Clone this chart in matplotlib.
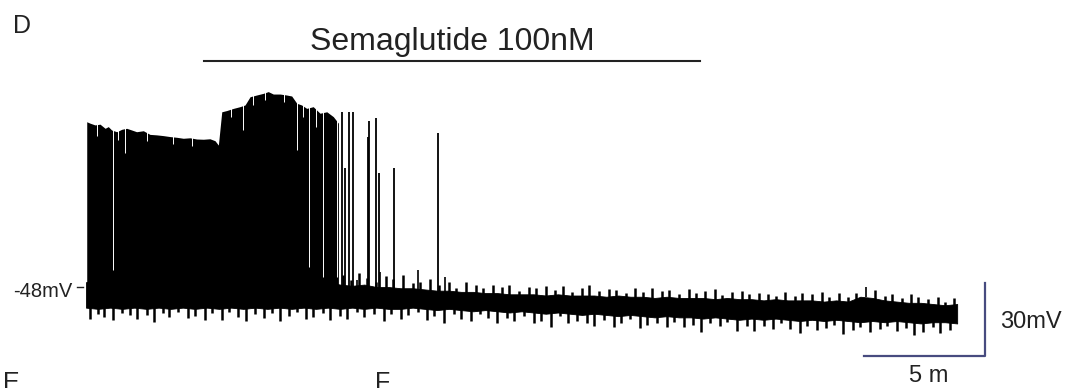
import numpy as np
import matplotlib.pyplot as plt

plt.rcParams['font.family'] = ['Liberation Sans', 'DejaVu Sans']

# baseline noise band (solid core), sampled every 0.5 min (mV)
band_lower = [-56.5, -57.0, -56.5, -57.0, -56.5, -57.0, -56.5, -57.0, -56.5, -57.0, -56.5,
              -57.0, -56.5, -57.0, -56.5, -57.0, -56.5, -57.0, -56.5, -57.0, -56.5,
              -57.0, -56.5, -57.0, -56.5, -57.0, -57.0, -56.5, -57.0, -57.5, -57.0,
              -57.5, -58.0, -57.5, -58.0, -58.5, -58.0, -58.5, -59.0, -58.5, -59.0,
              -59.5, -59.0, -59.5, -60.0, -59.5, -60.0, -60.5, -60.0, -60.5, -60.5,
              -61.0, -60.5, -61.0, -61.5, -61.0, -61.5, -61.0, -61.5, -62.0, -61.5,
              -62.0, -61.5, -62.0, -62.5, -62.0, -62.5, -62.0, -62.5, -63.0, -62.5, -62.5, -63.0]
band_upper = [-46.0, -45.5, -46.5, -45.5, -46.0, -45.5, -46.0, -45.5, -46.0, -45.5, -46.0,
              -45.5, -46.0, -45.5, -46.0, -45.5, -46.0, -45.5, -46.0, -45.5, -46.0,
              -47.0, -47.5, -47.0, -48.0, -48.0, -48.5, -48.5, -49.0, -49.5, -49.5,
              -50.0, -50.0, -50.5, -50.5, -51.0, -51.0, -51.0, -51.5, -51.0, -51.5,
              -51.5, -51.5, -52.0, -51.5, -52.0, -52.0, -52.5, -52.0, -52.5, -52.5,
              -52.5, -53.0, -52.5, -53.0, -53.0, -53.5, -53.0, -53.5, -53.5, -53.5,
              -54.0, -53.5, -54.0, -52.0, -52.5, -53.5, -54.0, -54.5, -54.5, -55.0, -55.5, -55.0]
band_t = np.linspace(0, 36, len(band_lower))

# noise excursions below the band: time (min) and depth (mV)
tail_down_t = [0.15, 0.5, 0.75, 1.1, 1.5, 1.8, 2.1, 2.5, 2.8, 3.2,
               3.45, 3.8, 4.2, 4.5, 4.9, 5.2, 5.6, 5.9, 6.3, 6.6,
               7.0, 7.35, 7.7, 8.0, 8.4, 8.7, 9.1, 9.4, 9.8, 10.1,
               10.5, 10.8, 11.2, 11.5, 11.9, 12.3, 12.6, 13.0, 13.3, 13.7,
               14.1, 14.4, 14.8, 15.2, 15.5, 15.9, 16.3, 16.6, 17.0, 17.4,
               17.7, 18.1, 18.5, 18.8, 19.2, 19.6, 19.9, 20.3, 20.7, 21.0,
               21.4, 21.8, 22.1, 22.5, 22.9, 23.2, 23.6, 24.0, 24.3, 24.7,
               25.1, 25.4, 25.8, 26.2, 26.5, 26.9, 27.3, 27.6, 28.0, 28.4,
               28.7, 29.1, 29.5, 29.8, 30.2, 30.6, 30.9, 31.3, 31.7, 32.0,
               32.4, 32.8, 33.1, 33.5, 33.9, 34.2, 34.6, 35.0, 35.3, 35.7]
tail_down_len = [4.5, 2.0, 3.5, 5.0, 1.5, 3.0, 4.5, 2.5, 5.5, 2.0,
                 3.5, 1.5, 4.0, 3.0, 5.0, 2.0, 4.5, 1.5, 3.5, 5.0,
                 2.5, 4.0, 2.0, 5.5, 3.0, 1.5, 4.5, 3.5, 2.0, 5.0,
                 3.0, 4.5, 1.5, 3.5, 2.5, 5.0, 2.0, 4.0, 3.0, 1.5,
                 4.5, 2.5, 5.5, 2.0, 3.5, 4.0, 1.5, 3.0, 5.0, 2.5,
                 3.5, 2.0, 4.5, 3.0, 5.5, 1.5, 4.0, 2.5, 3.5, 5.0,
                 2.0, 4.5, 3.0, 1.5, 5.0, 3.5, 2.5, 4.5, 2.0, 4.0,
                 3.0, 5.5, 2.0, 3.5, 1.5, 4.5, 3.0, 5.0, 2.5, 4.0,
                 1.5, 3.5, 5.0, 2.5, 4.0, 3.0, 2.0, 5.5, 3.5, 2.0,
                 4.5, 3.0, 1.5, 4.0, 2.5, 5.0, 3.5, 2.0, 4.5, 3.0]

# noise excursions above the band after the burst: time (min) and height (mV)
tail_up_t = [10.6, 10.95, 11.3, 11.6, 12.0, 12.4, 12.7, 13.1, 13.5, 13.8,
             14.2, 14.6, 15.0, 15.3, 15.7, 16.1, 16.4, 16.8, 17.2, 17.5,
             17.9, 18.3, 18.6, 19.0, 19.4, 19.7, 20.1, 20.5, 20.8, 21.2,
             21.6, 21.9, 22.3, 22.7, 23.0, 23.4, 23.8, 24.1, 24.5, 24.9,
             25.2, 25.6, 26.0, 26.3, 26.7, 27.1, 27.4, 27.8, 28.2, 28.5,
             28.9, 29.3, 29.6, 30.0, 30.4, 30.7, 31.1, 31.5, 31.8, 32.6,
             33.0, 33.3, 33.7, 34.1, 34.4, 34.8, 35.2, 35.5, 35.85]
tail_up_len = [4.0, 2.5, 5.0, 3.0, 2.0, 4.5, 3.5, 5.5, 2.0, 3.0,
               4.5, 2.5, 3.5, 1.5, 4.0, 3.0, 2.0, 3.5, 2.5, 4.0,
               1.5, 3.0, 2.5, 4.0, 2.0, 3.5, 1.5, 3.0, 4.5, 2.0,
               3.0, 2.5, 1.5, 3.5, 2.0, 4.0, 2.5, 3.0, 1.5, 3.5,
               2.0, 3.0, 4.0, 1.5, 2.5, 3.5, 2.0, 3.0, 2.5, 1.5,
               3.5, 2.0, 3.0, 2.5, 4.0, 1.5, 3.0, 2.0, 2.5, 3.5,
               2.0, 3.0, 1.5, 3.5, 2.5, 2.0, 3.0, 1.5, 2.5]

# envelope of the dense firing period (min, mV)
burst_t = [0.03, 0.17, 0.37, 0.58, 0.79, 0.92, 1.06, 1.27, 1.48, 1.68, 1.89, 2.09, 2.37,
           2.64, 2.92, 3.19, 3.47, 3.75, 4.02, 4.30, 4.57, 4.85, 5.12, 5.33, 5.47, 5.61,
           5.81, 6.09, 6.36, 6.57, 6.78, 7.05, 7.33, 7.53, 7.74, 8.02, 8.29, 8.50, 8.71,
           8.91, 9.12, 9.39, 9.67, 9.95, 10.22, 10.43]
burst_top = [20.0, 19.4, 18.7, 19.0, 17.3, 18.0, 16.6, 15.9, 16.9, 17.3, 16.6, 15.9, 16.3,
             14.8, 14.6, 14.3, 13.9, 13.6, 13.2, 13.4, 12.9, 12.8, 13.0, 12.2, 10.4, 24.1,
             24.6, 25.5, 26.2, 26.9, 30.3, 31.0, 31.7, 32.4, 31.4, 31.4, 31.0, 30.6, 27.6,
             26.9, 25.5, 26.2, 23.5, 24.1, 22.1, 19.4]

# short pauses inside the burst (min, lowest mV reached by the gap)
gap_t = [0.45, 1.12, 1.32, 1.61, 2.5, 3.6, 4.4, 6.0, 6.49, 6.9, 7.4, 8.2, 8.72, 8.95,
         9.21, 9.5, 9.79, 10.37]
gap_bottom = [14.0, -41.0, 12.5, 7.1, 12.0, 11.0, 10.0, 22.0, 16.6, 27.0, 29.0, 28.0,
              8.4, 22.0, -39.8, 18.0, -43.9, -43.9]

# isolated action potentials (min, peak mV)
spike_t = [10.58, 10.70, 10.87, 11.03, 11.65, 11.69, 11.98, 12.11, 12.73, 14.55]
spike_peak = [24.0, 1.0, 24.0, 24.0, 13.7, 20.3, 21.5, -1.1, 1.0, 15.4]

# small events on the baseline
event_t = [11.2, 12.15, 13.72, 14.83, 32.23]
event_peak = [-45.0, -42.0, -41.0, -44.0, -48.0]

drug_on, drug_off = 4.88, 25.37
bar_color = '#474b7f'
txt = '#222222'

fig = plt.figure(figsize=(10.68, 3.88), dpi=100)
ax = fig.add_axes([0, 0, 1, 1])
ax.set_xlim(-3.554, 40.58)
ax.set_ylim(-89.56, 70.1)
ax.axis('off')

ax.fill_between(burst_t, -52, burst_top, color='black', lw=0)
top = np.interp(gap_t, burst_t, burst_top) + 1
ax.vlines(gap_t, gap_bottom, top, color='white', lw=0.7)
ax.fill_between(band_t, band_lower, band_upper, color='black', lw=0.6, edgecolor='black')

low = np.interp(tail_down_t, band_t, band_lower)
ax.vlines(tail_down_t, low + 1, low - np.array(tail_down_len), color='black', lw=1.8)
high = np.interp(tail_up_t, band_t, band_upper)
ax.vlines(tail_up_t, high - 1, high + np.array(tail_up_len), color='black', lw=1.8)

ax.vlines(spike_t, -52, spike_peak, color='black', lw=1.3)
ax.vlines(event_t, -52, event_peak, color='black', lw=1.2)

# drug application bar
ax.plot([drug_on, drug_off], [45.0, 45.0], color=txt, lw=1.5)
ax.text((drug_on + drug_off) / 2, 49.5, 'Semaglutide 100nM', ha='center', va='baseline',
        fontsize=23, color=txt)

# holding potential
ax.plot([-0.37, -0.12], [-48, -48], color=txt, lw=1)
ax.text(-0.58, -52.1, '-48mV', ha='right', va='baseline', fontsize=14.5, color=txt)

# scale bars
ax.plot([32.15, 37.15, 37.15], [-76.4, -76.4, -46.4], color=bar_color, lw=1.6)
ax.text(37.77, -64.9, '30mV', ha='left', va='baseline', fontsize=17, color=txt)
ax.text(34.83, -87.1, '5 m', ha='center', va='baseline', fontsize=17, color=txt)

# panel letters
fig.text(13 / 1068, 1 - 33 / 388, 'D', fontsize=18, color=txt)
fig.text(3 / 1068, -2 / 388, 'E', fontsize=18, color=txt)
fig.text(375 / 1068, -2 / 388, 'F', fontsize=18, color=txt)

fig.savefig('out.png', dpi=100)
